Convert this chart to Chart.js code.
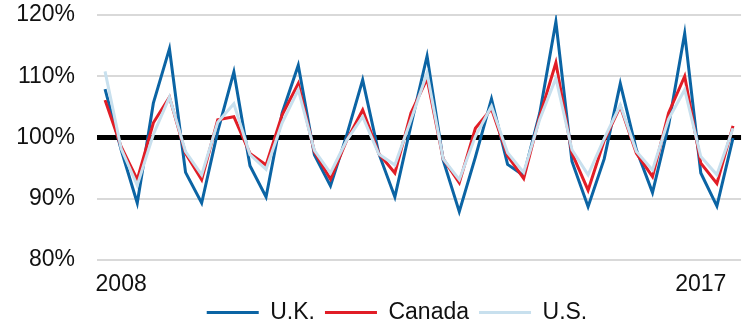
<!DOCTYPE html>
<html>
<head>
<meta charset="utf-8">
<script src="https://cdn.jsdelivr.net/npm/chart.js@4"></script>
<style>
  html, body { margin: 0; padding: 0; background: #ffffff; }
  #wrap { width: 744px; height: 322px; position: relative; }
</style>
</head>
<body>
<div id="wrap"><canvas id="c"></canvas></div>
<script>
// Quarterly, 2008 Q1 .. 2017 Q4
const quarters = [];
for (let y = 2008; y <= 2017; y++) { for (let q = 1; q <= 4; q++) quarters.push(y + ' Q' + q); }
const yearTickLabels = { 1: '2008', 37: '2017' };

const ukValues = [107.9, 98.0, 89.3, 105.6, 114.5, 94.3, 89.3, 101.0,
                  110.7, 95.4, 90.3, 104.0, 111.8, 97.2, 92.1, 100.3,
                  109.4, 97.4, 90.3, 102.0, 113.3, 96.3, 87.9, 96.8,
                  106.3, 95.6, 93.8, 104.0, 118.9, 96.1, 88.7, 96.5,
                  108.8, 98.0, 91.0, 102.0, 117.0, 94.2, 88.8, 99.9];
const canadaValues = [106.1, 98.5, 93.1, 102.4, 106.6, 97.4, 93.1, 102.9,
                      103.4, 97.4, 95.5, 103.7, 108.8, 97.7, 93.2, 99.5,
                      104.5, 97.4, 94.2, 104.0, 109.6, 96.5, 92.6, 101.5,
                      104.7, 97.0, 93.3, 103.5, 112.2, 97.4, 91.4, 99.5,
                      105.1, 97.4, 93.6, 104.0, 110.0, 95.8, 92.5, 101.9];
const usValues = [110.8, 98.2, 92.2, 100.5, 106.6, 97.7, 93.9, 102.5,
                  105.5, 97.2, 94.8, 102.4, 107.8, 97.9, 94.2, 99.5,
                  103.4, 97.3, 95.5, 102.9, 110.5, 96.5, 93.1, 100.2,
                  105.1, 97.5, 94.3, 103.0, 109.7, 98.0, 93.9, 99.8,
                  105.3, 97.7, 94.7, 103.0, 107.8, 96.9, 93.9, 101.5];
const yTicks = [80, 90, 100, 110, 120];

const FONT = "'Liberation Sans', Arial, sans-serif";

// nudges the legend block to the reference position (layout only)
const legendNudge = {
  id: 'legendNudge',
  afterLayout(chart) {
    const lg = chart.legend;
    if (!lg) return;
    lg.left += 25; lg.right += 25;
    lg.top -= 4; lg.bottom += 30;
  }
};

new Chart(document.getElementById('c'), {
  type: 'line',
  data: {
    labels: quarters,
    datasets: [
      { label: 'U.K.', data: ukValues, borderColor: '#0b64a4', backgroundColor: '#0b64a4', borderWidth: 3, pointRadius: 0, tension: 0, order: 2 },
      { label: 'Canada', data: canadaValues, borderColor: '#e11d26', backgroundColor: '#e11d26', borderWidth: 3, pointRadius: 0, tension: 0, order: 1 },
      { label: 'U.S.', data: usValues, borderColor: '#c8e0ee', backgroundColor: '#c8e0ee', borderWidth: 3, pointRadius: 0, tension: 0, order: 0 }
    ]
  },
  plugins: [legendNudge],
  options: {
    responsive: true,
    maintainAspectRatio: false,
    animation: false,
    layout: { padding: { top: 0, right: 0, bottom: 0, left: 0 } },
    plugins: {
      title: { display: false },
      tooltip: { enabled: false },
      legend: {
        position: 'bottom',
        maxHeight: 27,
        labels: {
          font: { family: FONT, size: 23 },
          color: '#111',
          boxWidth: 52,
          boxHeight: 3,
          padding: 10,
          sort: (a, b) => a.datasetIndex - b.datasetIndex,
          generateLabels: (chart) =>
            Chart.defaults.plugins.legend.labels.generateLabels(chart)
              .map(item => Object.assign(item, { lineWidth: 0 }))
        }
      }
    },
    scales: {
      x: {
        type: 'category',
        offset: true,
        grid: { display: false, drawTicks: false },
        border: { display: false },
        afterFit: (s) => { s.height = 35; },
        ticks: {
          autoSkip: false,
          maxRotation: 0,
          minRotation: 0,
          padding: 11,
          color: '#111',
          font: { family: FONT, size: 23 },
          callback: (v, i) => yearTickLabels[i] || ''
        }
      },
      y: {
        min: 80,
        max: 120,
        afterBuildTicks: (s) => { s.ticks = yTicks.map(v => ({ value: v })); },
        afterFit: (s) => { s.width = 97; },
        border: { display: false },
        grid: {
          drawTicks: true,
          tickLength: 20,
          tickColor: 'rgba(0,0,0,0)',
          color: (ctx) => ctx.tick && ctx.tick.value === 100 ? '#000000' : '#d9d9d9',
          lineWidth: (ctx) => ctx.tick && ctx.tick.value === 100 ? 5 : 2
        },
        ticks: {
          padding: 2,
          color: '#111',
          font: { family: FONT, size: 23, lineHeight: 1.13 },
          callback: (v) => v + '%'
        }
      }
    }
  }
});
</script>
</body>
</html>
